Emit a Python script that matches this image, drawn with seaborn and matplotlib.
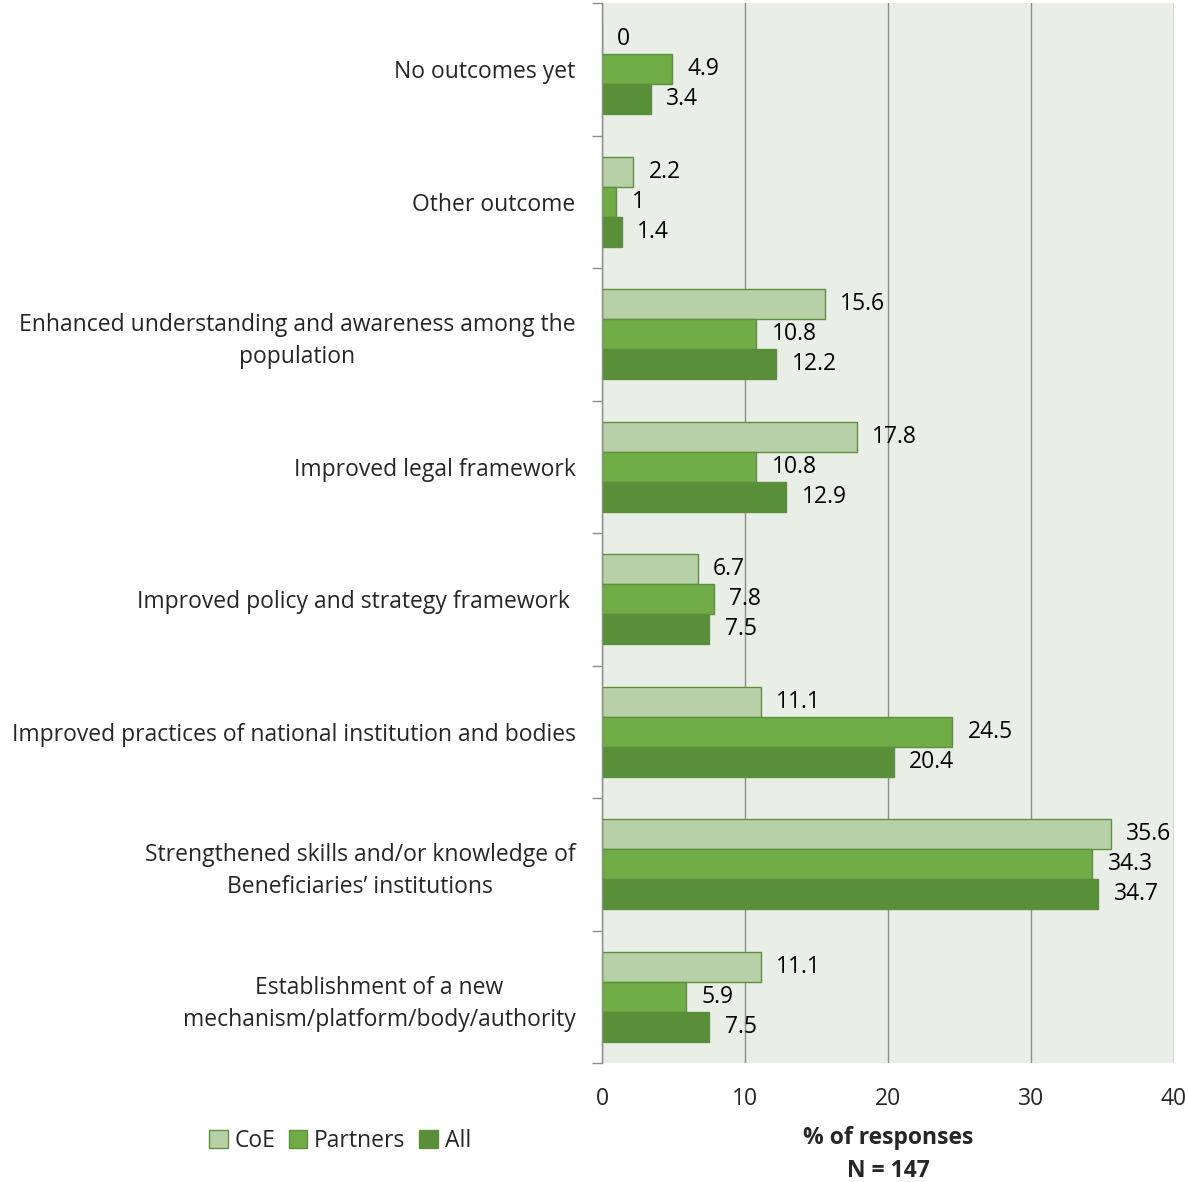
import matplotlib
matplotlib.use("Agg")
import matplotlib.pyplot as plt
import seaborn as sns
import pandas as pd
import numpy as np

categories = [
    "No outcomes yet",
    "Other outcome",
    "Enhanced understanding and awareness among the\npopulation",
    "Improved legal framework",
    "Improved policy and strategy framework ",
    "Improved practices of national institution and bodies",
    "Strengthened skills and/or knowledge of\nBeneficiaries\u2019 institutions",
    "Establishment of a new\nmechanism/platform/body/authority",
]
series = ["CoE", "Partners", "All"]
coe = [0, 2.2, 15.6, 17.8, 6.7, 11.1, 35.6, 11.1]
partners = [4.9, 1, 10.8, 10.8, 7.8, 24.5, 34.3, 5.9]
all_ = [3.4, 1.4, 12.2, 12.9, 7.5, 20.4, 34.7, 7.5]
xticks = [0, 10, 20, 30, 40]

rows = []
for s, vals in zip(series, [coe, partners, all_]):
    for c, v in zip(categories, vals):
        rows.append({"cat": c, "series": s, "val": v})
df = pd.DataFrame(rows)

sns.set_theme(style="white")
plt.rcParams['font.family'] = ['Open Sans', 'DejaVu Sans']
FS = 16.5

fig = plt.figure(figsize=(11.88, 11.82), dpi=100)
ax = fig.add_axes([602/1188, 1 - 1063/1182, 572/1188, 1060/1182])
ax.set_facecolor("#e9efe6")

palette = {"CoE": "#b7d0a8", "Partners": "#70ad47", "All": "#5a8f3a"}
sns.barplot(data=df, y="cat", x="val", hue="series", orient="h",
            order=categories, hue_order=series, palette=palette,
            width=0.68, gap=0, ax=ax, edgecolor="#5e8f3d", linewidth=1,
            saturation=1, legend=True)

for cont in ax.containers:
    ax.bar_label(cont, labels=[f"{v:g}" for v in cont.datavalues],
                 padding=11, fontsize=FS, color="black")

ax.set_xlim(0, 40)
ax.set_ylim(len(categories) - 0.5, -0.5)
ax.set_xticks(xticks)
ax.set_xticklabels([str(t) for t in xticks], fontsize=FS)
ax.tick_params(axis="x", length=0, pad=17)
ax.grid(axis="x", color="#8c8c8c", linewidth=1)
ax.grid(axis="y", visible=False)
ax.set_axisbelow(True)
for s in ["top", "right", "bottom"]:
    ax.spines[s].set_visible(False)
ax.spines["left"].set_color("#8c8c8c")
ax.spines["left"].set_linewidth(1)

ax.set_yticks(range(len(categories)))
ax.set_yticklabels(categories, fontsize=FS, ha="right", multialignment="center",
                   linespacing=1.45)
ax.tick_params(axis="y", length=0, pad=19)
ax.set_yticks(np.arange(-0.5, len(categories), 1), minor=True)
ax.tick_params(axis="y", which="minor", length=7, color="#8c8c8c", width=1, left=True)
ax.set_ylabel("")
ax.set_xlabel("% of responses\nN = 147", fontsize=FS, fontweight="bold",
              labelpad=11, linespacing=1.5)

leg = ax.legend(loc="center", bbox_to_anchor=(340/1188, 1 - 1141/1182),
                bbox_transform=fig.transFigure, ncol=3, frameon=False,
                fontsize=FS, handlelength=0.8, handleheight=0.8,
                handletextpad=0.3, columnspacing=0.6)
for h in leg.legend_handles:
    h.set_edgecolor("#5e8f3d")

fig.savefig("out.png", dpi=100)
